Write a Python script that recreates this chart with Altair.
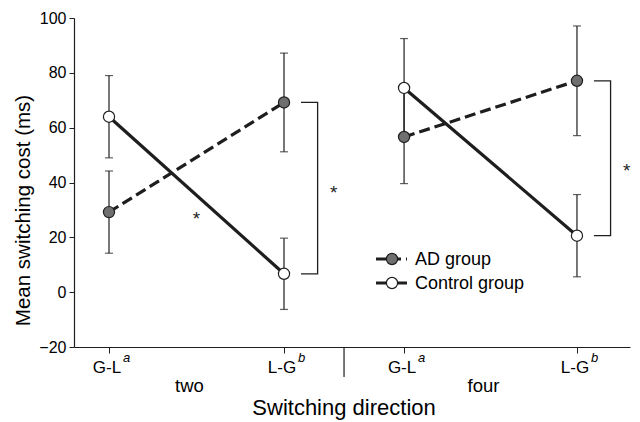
import altair as alt
import pandas as pd

# ---- data ----
conditions = ["two", "two", "four", "four"]
directions = ["G-L", "L-G", "G-L", "L-G"]
superscripts = ["a", "b", "a", "b"]
x_pos = [1.0, 2.0, 2.686, 3.674]          # category positions on the x scale
ad_mean = [29.2, 69.2, 56.6, 77.1]
ad_err = [15.0, 18.0, 17.0, 20.0]
ctrl_mean = [64.0, 6.7, 74.5, 20.6]
ctrl_err = [15.0, 13.0, 18.0, 15.0]
groups = ["AD group", "Control group"]
y_ticks = [-20, 0, 20, 40, 60, 80, 100]
bracket_star_y = [38.0, 46.2]
mid_star_x = [1.5]
mid_star_y = [28.6]

W, H = 556, 329
X_DOMAIN = [0.8, 3.977]
FONT = "Liberation Sans"
INK = "#1e1e1e"

rows = []
for i in range(4):
    rows.append(dict(group=groups[0], cond=conditions[i], x=x_pos[i], mean=ad_mean[i],
                     lo=ad_mean[i] - ad_err[i], hi=ad_mean[i] + ad_err[i]))
    rows.append(dict(group=groups[1], cond=conditions[i], x=x_pos[i], mean=ctrl_mean[i],
                     lo=ctrl_mean[i] - ctrl_err[i], hi=ctrl_mean[i] + ctrl_err[i]))
df = pd.DataFrame(rows)

xscale = alt.Scale(domain=X_DOMAIN, nice=False, zero=False)
yscale = alt.Scale(domain=[-20, 100], nice=False, zero=False)
xaxis = alt.Axis(values=x_pos, labels=False, title=None, grid=False, tickSize=6,
                 domainColor=INK, tickColor=INK, domainWidth=1.2, tickWidth=1)
yaxis = alt.Axis(values=y_ticks, title="Mean switching cost (ms)", grid=False, tickSize=5,
                 labelFontSize=16, labelPadding=3, labelColor="black", labelFont=FONT,
                 domainColor=INK, tickColor=INK, domainWidth=1.2, tickWidth=1,
                 titleFontSize=20.5, titleFontWeight="normal", titleFont=FONT, titleColor="black",
                 titleX=-45, titleY=192, titleBaseline="alphabetic")


def X(field):
    return alt.X(field, type="quantitative", scale=xscale, axis=xaxis)


def Y(field):
    return alt.Y(field, type="quantitative", scale=yscale, axis=yaxis)


base = alt.Chart(df)

ad_line = base.transform_filter(alt.datum.group == groups[0]).mark_line(
    color=INK, strokeWidth=3.2, strokeDash=[11, 5]
).encode(x=X("x"), y=Y("mean"), detail="cond:N")

ctrl_line = base.transform_filter(alt.datum.group == groups[1]).mark_line(
    color=INK, strokeWidth=3.2
).encode(x=X("x"), y=Y("mean"), detail="cond:N")

err_rule = base.mark_rule(color=INK, strokeWidth=1.2).encode(x=X("x"), y=Y("lo"), y2="hi")
cap_lo = base.mark_tick(orient="horizontal", color=INK, size=8, thickness=1.2).encode(x=X("x"), y=Y("lo"))
cap_hi = base.mark_tick(orient="horizontal", color=INK, size=8, thickness=1.2).encode(x=X("x"), y=Y("hi"))

points = base.mark_circle(size=125, stroke=INK, strokeWidth=1.2, opacity=1).encode(
    x=X("x"), y=Y("mean"),
    fill=alt.Fill("group:N", scale=alt.Scale(domain=groups, range=["#6f6f6f", "white"]), legend=None),
)

# significance brackets next to the L-G points
BR_IN, BR_OUT, STAR_GAP = 0.097, 0.192, 0.092
br_rows = []
stars = []
for j, i in enumerate([1, 3]):
    xs = x_pos[i]
    pts = [(xs + BR_IN, ad_mean[i]), (xs + BR_OUT, ad_mean[i]),
           (xs + BR_OUT, ctrl_mean[i]), (xs + BR_IN, ctrl_mean[i])]
    for k, (bx, by) in enumerate(pts):
        br_rows.append(dict(cond=conditions[i], k=k, x=bx, mean=by))
    stars.append(dict(x=xs + BR_OUT + STAR_GAP, mean=bracket_star_y[j]))
for sx, sy in zip(mid_star_x, mid_star_y):
    stars.append(dict(x=sx, mean=sy))

brackets = alt.Chart(pd.DataFrame(br_rows)).mark_line(color=INK, strokeWidth=1.3).encode(
    x=X("x"), y=Y("mean"), detail="cond:N", order="k:Q")

star_text = alt.Chart(pd.DataFrame(stars)).mark_text(
    text="*", fontSize=19, font=FONT, color=INK, baseline="alphabetic", dy=11
).encode(x=X("x"), y=Y("mean"))

# x-axis category labels
tick_df = pd.DataFrame(dict(x=x_pos, label=directions, sup=superscripts))
tick_lab = alt.Chart(tick_df).mark_text(fontSize=17, font=FONT, color="black", align="center",
                                        baseline="alphabetic", dx=-2).encode(
    x=X("x"), y=alt.value(H + 26), text="label:N")
tick_sup = alt.Chart(tick_df).mark_text(fontSize=13, font=FONT, fontStyle="italic", color="black",
                                        align="left", baseline="alphabetic", dx=14).encode(
    x=X("x"), y=alt.value(H + 15), text="sup:N")

grp_df = pd.DataFrame(dict(x=[(x_pos[0] + x_pos[1]) / 2, (x_pos[2] + x_pos[3]) / 2],
                           label=["two", "four"]))
grp_lab = alt.Chart(grp_df).mark_text(fontSize=18.5, font=FONT, color="black", align="center",
                                      baseline="alphabetic", dx=-7).encode(
    x=X("x"), y=alt.value(H + 45), text="label:N")

sep_df = pd.DataFrame(dict(x=[(x_pos[1] + x_pos[2]) / 2], label=["Switching direction"]))
sep_rule = alt.Chart(sep_df).mark_rule(color=INK, strokeWidth=1.2).encode(
    x=X("x"), y=alt.value(H), y2=alt.value(H + 30))
x_title = alt.Chart(sep_df).mark_text(fontSize=22, font=FONT, color="black", align="center",
                                      baseline="alphabetic").encode(
    x=X("x"), y=alt.value(H + 68), text="label:N")

# legend
leg_layers = []
leg_y = [241, 265]
fills = ["#6f6f6f", "white"]
dashes = [[10, 5], [1, 0]]
leg_df = pd.DataFrame(dict(group=groups))
for g, ly, fc, ds in zip(groups, leg_y, fills, dashes):
    d = alt.Chart(leg_df).transform_filter(alt.datum.group == g)
    leg_layers.append(d.mark_rule(color=INK, strokeWidth=3, strokeDash=ds).encode(
        x=alt.value(302), x2=alt.value(333), y=alt.value(ly)))
    leg_layers.append(d.mark_circle(size=125, fill=fc, stroke=INK, strokeWidth=1.2, opacity=1).encode(
        x=alt.value(318), y=alt.value(ly)))
    leg_layers.append(d.mark_text(fontSize=18, font=FONT, color="black", align="left",
                                  baseline="middle").encode(
        x=alt.value(341), y=alt.value(ly + 1), text="group:N"))

chart = alt.layer(
    ad_line, ctrl_line, err_rule, cap_lo, cap_hi, points, brackets, star_text,
    tick_lab, tick_sup, grp_lab, sep_rule, x_title, *leg_layers
).properties(
    width=W, height=H,
    autosize=alt.AutoSizeParams(type="none"),
    padding={"left": 74, "top": 18, "right": 10, "bottom": 75},
    background="white",
).configure_view(stroke=None)

chart.save("out.html", embed_options={"renderer": "svg", "actions": False})
